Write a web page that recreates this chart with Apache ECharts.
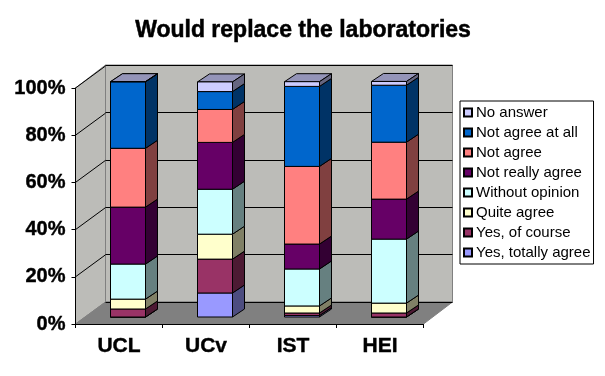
<!DOCTYPE html>
<html>
<head>
<meta charset="utf-8">
<style>html,body{margin:0;padding:0;background:#fff}#chart{width:605px;height:376px}</style>
<script src="https://cdn.jsdelivr.net/npm/echarts@6/dist/echarts.min.js"></script>
</head>
<body>
<div id="chart"></div>
<script>
var categories = ['UCL', 'UCv', 'IST', 'HEI'];
var yTicks = [0, 20, 40, 60, 80, 100];

// bottom of the stack first
var totallyAgree = [0, 10.2, 0.6, 0];
var ofCourse     = [3.4, 14.4, 1.1, 1.7];
var quiteAgree   = [4.2, 10.6, 3.0, 4.2];
var noOpinion    = [14.9, 19.1, 15.7, 27.2];
var notReally    = [24.2, 19.9, 10.6, 17.0];
var notAgree     = [25.0, 14.0, 33.0, 24.2];
var notAtAll     = [28.3, 7.6, 34.0, 24.2];
var noAnswer     = [0, 4.1, 2.0, 1.6];

var seriesDefs = [
  { name: 'Yes, totally agree', values: totallyAgree, color: '#9999FF' },
  { name: 'Yes, of course', values: ofCourse, color: '#993366' },
  { name: 'Quite agree', values: quiteAgree, color: '#FFFFCC' },
  { name: 'Without opinion', values: noOpinion, color: '#CCFFFF' },
  { name: 'Not really agree', values: notReally, color: '#660066' },
  { name: 'Not agree', values: notAgree, color: '#FF8080' },
  { name: 'Not agree at all', values: notAtAll, color: '#0066CC' },
  { name: 'No answer', values: noAnswer, color: '#CCCCFF' }
];

var depthX = 30, depthY = 22;   // wall depth
var barDepthX = 12, barDepthY = 8;
var barWidth = 35;
var font = '"Liberation Sans", Arial, sans-serif';

var chart = echarts.init(document.getElementById('chart'), null, { renderer: 'canvas' });

function darken(color) {
  var c = echarts.color.parse(color);
  return 'rgb(' + Math.round(c[0] / 2) + ',' + Math.round(c[1] / 2) + ',' + Math.round(c[2] / 2) + ')';
}

function renderSideLine(params, api) {
  var p = api.coord([0, api.value(0)]);
  var x = params.coordSys.x;
  return {
    type: 'line',
    shape: { x1: x, y1: p[1], x2: x + depthX, y2: p[1] - depthY },
    style: { stroke: '#000', lineWidth: 1 }
  };
}

function renderBar(params, api) {
  var color = api.visual('color');
  var bottom = api.coord([api.value(0), api.value(1)]);
  var top = api.coord([api.value(0), api.value(2)]);
  var x0 = bottom[0] - barWidth / 2, x1 = x0 + barWidth;
  var edge = { stroke: '#000', lineWidth: 1 };
  return {
    type: 'group',
    children: [
      { type: 'polygon',
        shape: { points: [[x0, top[1]], [x1, top[1]], [x1 + barDepthX, top[1] - barDepthY], [x0 + barDepthX, top[1] - barDepthY]] },
        style: Object.assign({ fill: '#9494B8' }, edge) },
      { type: 'polygon',
        shape: { points: [[x1, bottom[1]], [x1 + barDepthX, bottom[1] - barDepthY], [x1 + barDepthX, top[1] - barDepthY], [x1, top[1]]] },
        style: Object.assign({ fill: darken(color) }, edge) },
      { type: 'rect',
        shape: { x: x0, y: top[1], width: barWidth, height: bottom[1] - top[1] },
        style: Object.assign({ fill: color }, edge) }
    ]
  };
}

var running = categories.map(function () { return 0; });
var barSeries = seriesDefs.map(function (def, s) {
  var data = def.values.map(function (v, i) {
    var item = [i, running[i], running[i] + v];
    running[i] += v;
    return item;
  });
  return {
    name: def.name,
    type: 'custom',
    xAxisIndex: 1,
    yAxisIndex: 1,
    clip: false,
    z: 10 + s,
    itemStyle: { color: def.color, borderColor: '#000', borderWidth: 1 },
    renderItem: renderBar,
    encode: { x: 0, y: [1, 2] },
    data: data
  };
});

var wallFill = '#BCBCB8';
chart.setOption({
  animation: false,
  backgroundColor: '#fff',
  title: {
    text: 'Would replace the laboratories',
    left: 298, top: 14, textAlign: 'center',
    textStyle: { fontFamily: font, fontSize: 23, fontWeight: 'bold', color: '#000', textBorderColor: '#000', textBorderWidth: 0.5 }
  },
  legend: {
    orient: 'vertical',
    left: 460, top: 101,
    padding: [4, 3, 4, 3],
    itemWidth: 8, itemHeight: 8, itemGap: 5,
    icon: 'rect',
    selectedMode: false,
    backgroundColor: '#fff',
    borderColor: '#000', borderWidth: 1,
    textStyle: { fontFamily: font, fontSize: 15, color: '#000', padding: [0, 0, 0, -1] },
    data: seriesDefs.map(function (d) { return d.name; }).reverse()
  },
  grid: [
    { left: 75.5, top: 88, width: 348, height: 236 },   // front plane, carries the labels
    { left: 84.5, top: 81.7, width: 348, height: 235.3 }, // plane of the bars
    { left: 105.5, top: 65, width: 347, height: 237 }   // back wall
  ],
  xAxis: [
    { type: 'category', gridIndex: 0, data: categories,
      axisLine: { lineStyle: { color: '#000' } },
      axisTick: { show: true, length: 4, alignWithLabel: false, lineStyle: { color: '#000' } },
      axisLabel: { fontFamily: font, fontSize: 21, fontWeight: 'bold', color: '#000', margin: 12, textBorderColor: '#000', textBorderWidth: 0.4 } },
    { type: 'category', gridIndex: 1, data: categories, show: false },
    { type: 'category', gridIndex: 2, data: categories, show: false }
  ],
  yAxis: [
    { type: 'value', gridIndex: 0, min: 0, max: 100, interval: 20,
      axisLine: { show: true, lineStyle: { color: '#000' } },
      axisTick: { show: true, length: 4, lineStyle: { color: '#000' } },
      splitLine: { show: false },
      axisLabel: { fontFamily: font, fontSize: 20, fontWeight: 'bold', color: '#000', margin: 10, textBorderColor: '#000', textBorderWidth: 0.4,
        formatter: '{value}%' } },
    { type: 'value', gridIndex: 1, min: 0, max: 100, show: false, splitLine: { show: false } },
    { type: 'value', gridIndex: 2, min: 0, max: 100, interval: 20, z: 3,
      axisLine: { show: false }, axisTick: { show: false }, axisLabel: { show: false },
      splitLine: { show: true, lineStyle: { color: '#000', width: 1 } } }
  ],
  graphic: [
    // back wall, side wall, floor
    { type: 'polygon', z: 0, shape: { points: [[105.5, 65], [452.5, 65], [452.5, 302], [105.5, 302]] },
      style: { fill: wallFill, stroke: '#808080', lineWidth: 1 } },
    { type: 'polygon', z: 0, shape: { points: [[75.5, 88], [105.5, 65], [105.5, 302], [75.5, 324]] },
      style: { fill: wallFill, stroke: '#808080', lineWidth: 1 } },
    { type: 'polygon', z: 0, shape: { points: [[75.5, 324], [105.5, 302], [452.5, 302], [423.5, 324]] },
      style: { fill: '#808080', stroke: '#808080', lineWidth: 1 } }
  ],
  series: [{
    type: 'custom',
    name: 'sideLines',
    xAxisIndex: 0,
    yAxisIndex: 0,
    z: 4,
    clip: false,
    renderItem: renderSideLine,
    encode: { y: 0 },
    data: yTicks.filter(function (t) { return t > 0; }).map(function (t) { return [t]; })
  }].concat(barSeries)
});
</script>
</body>
</html>
